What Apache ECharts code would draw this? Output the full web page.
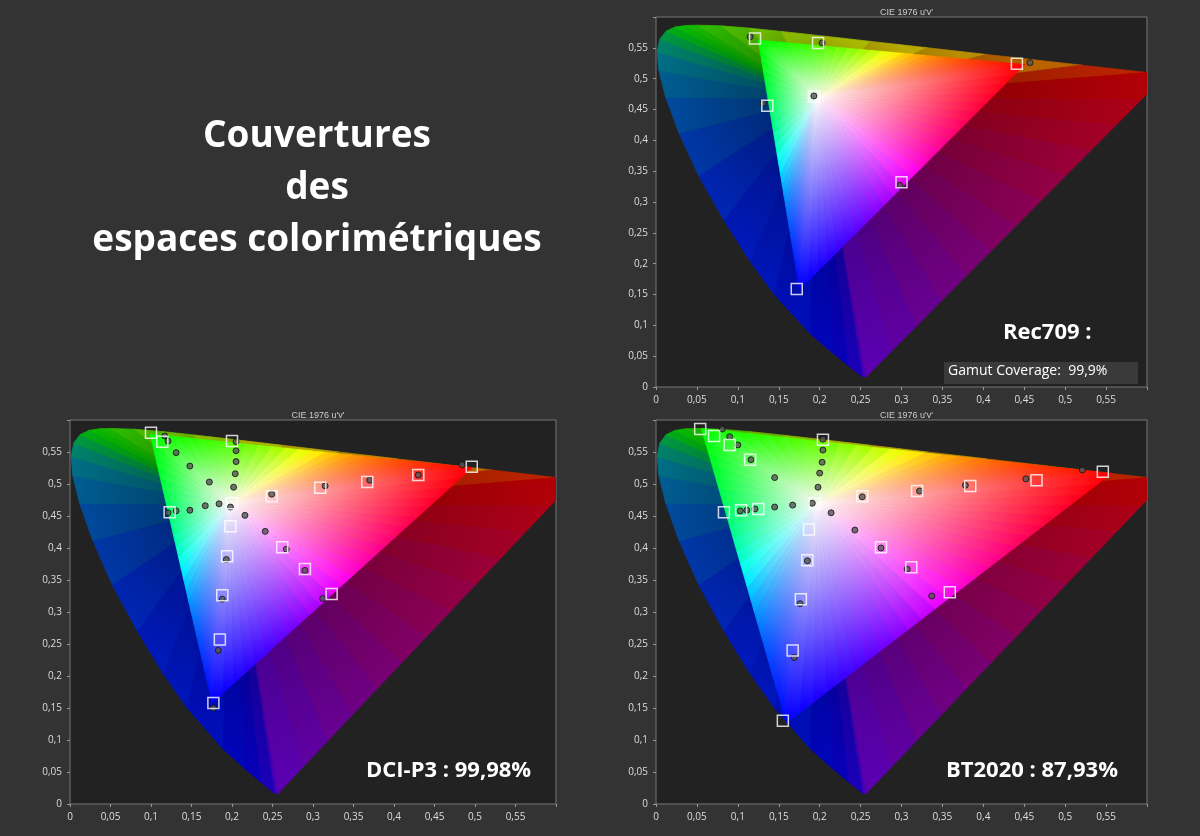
<!DOCTYPE html>
<html><head><meta charset="utf-8">
<script src="https://cdn.jsdelivr.net/npm/echarts@6/dist/echarts.min.js"></script>
<style>html,body{margin:0;background:#333;}#c{width:1200px;height:836px;}</style>
</head><body><div id="c"></div>
<script>
// Spectral locus (CIE 1931 xy), converted to u'v'
const locusWl=[380,420,440,450,460,470,475,480,485,490,495,500,505,510,515,520,525,530,540,550,560,570,580,590,600,620,650,700];
const locusX=[0.1741,0.1714,0.1644,0.1566,0.1440,0.1241,0.1096,0.0913,0.0687,0.0454,0.0235,0.0082,0.0039,0.0139,0.0389,0.0743,0.1142,0.1547,0.2296,0.3016,0.3731,0.4441,0.5125,0.5752,0.6270,0.6915,0.7260,0.7347];
const locusY=[0.0050,0.0051,0.0109,0.0177,0.0297,0.0578,0.0868,0.1327,0.2007,0.2950,0.4127,0.5384,0.6548,0.7502,0.8120,0.8338,0.8262,0.8059,0.7543,0.6923,0.6245,0.5547,0.4866,0.4242,0.3725,0.3083,0.2740,0.2653];
const whitePoint=[0.1978,0.4683];
// Gamut primaries R,G,B (u'v')
const gamutRec709=[[0.4507,0.5229],[0.125,0.5625],[0.1754,0.1579]];
const gamutP3=[[0.4964,0.5256],[0.0991,0.5779],[0.1754,0.1579]];
const gamut2020=[[0.5566,0.5165],[0.0556,0.5868],[0.1593,0.1266]];
// Measured points
const recTargets=[[0.121,0.565],[0.198,0.558],[0.441,0.524],[0.193,0.471],[0.136,0.456],[0.300,0.332],[0.172,0.159]];
const recMeasured=[[0.115,0.568],[0.203,0.558],[0.457,0.526],[0.193,0.472],[0.131,0.46],[0.298,0.327]];
const p3Targets=[[0.100,0.58],[0.114,0.566],[0.123,0.456],[0.2,0.567],[0.2,0.47],[0.198,0.434],[0.194,0.387],[0.188,0.326],[0.185,0.257],[0.177,0.158],[0.249,0.481],[0.262,0.401],[0.29,0.367],[0.323,0.328],[0.309,0.494],[0.367,0.503],[0.430,0.514],[0.496,0.527]];
const p3Measured=[[0.117,0.575],[0.121,0.567],[0.131,0.549],[0.148,0.528],[0.172,0.503],[0.205,0.566],[0.205,0.552],[0.205,0.535],[0.204,0.516],[0.202,0.495],[0.131,0.458],[0.121,0.455],[0.148,0.459],[0.167,0.466],[0.184,0.469],[0.198,0.464],[0.216,0.451],[0.241,0.426],[0.267,0.398],[0.29,0.365],[0.312,0.321],[0.193,0.382],[0.188,0.320],[0.183,0.240],[0.177,0.150],[0.249,0.484],[0.315,0.497],[0.370,0.506],[0.43,0.514],[0.484,0.530]];
const bt2020Targets=[[0.054,0.586],[0.071,0.575],[0.090,0.561],[0.115,0.538],[0.083,0.456],[0.104,0.459],[0.125,0.461],[0.204,0.569],[0.194,0.470],[0.187,0.429],[0.185,0.381],[0.177,0.320],[0.167,0.240],[0.155,0.130],[0.252,0.481],[0.275,0.401],[0.312,0.370],[0.359,0.331],[0.319,0.489],[0.384,0.497],[0.465,0.506],[0.546,0.519]];
const bt2020Measured=[[0.081,0.586],[0.090,0.574],[0.100,0.561],[0.116,0.538],[0.145,0.510],[0.103,0.458],[0.111,0.459],[0.121,0.461],[0.145,0.464],[0.167,0.467],[0.191,0.470],[0.214,0.455],[0.243,0.428],[0.275,0.400],[0.307,0.367],[0.337,0.325],[0.204,0.570],[0.204,0.553],[0.203,0.534],[0.200,0.517],[0.198,0.495],[0.185,0.380],[0.176,0.313],[0.169,0.229],[0.252,0.480],[0.322,0.489],[0.378,0.498],[0.452,0.508],[0.521,0.522]];

function toUV(x,y){const d=-2*x+12*y+3;return [4*x/d,9*y/d];}
const locus=locusX.map((x,i)=>toUV(x,locusY[i]));
function wlRGB(w){let r=0,g=0,b=0;
 if(w<450){r=-(w-450)/70*0.5;b=1;}else if(w<480){b=1;g=(w-450)/30*0.15;}
 else if(w<505){g=0.15+(w-480)/25*0.5;b=1-(w-480)/25*0.3;}
 else if(w<520){g=0.65+(w-505)/15*0.35;b=0.7-(w-505)/15*0.7;}
 else if(w<580){r=(w-520)/60;g=1;}else if(w<645){r=1;g=-(w-645)/65;}else r=1;
 return [r,g,b];}
function rgbStr(c,k){return 'rgb('+c.map(v=>Math.round(Math.min(1,v*k)*255)).join(',')+')';}
function locusPts(){const pts=locus.map((p,i)=>({p,c:wlRGB(locusWl[i])}));
 const a=locus[locus.length-1],b=locus[0];const ca=[1,0,0],cb=[0.45,0,1];
 for(let k=1;k<12;k++){const t=k/12;pts.push({p:[a[0]+(b[0]-a[0])*t,a[1]+(b[1]-a[1])*t],c:[ca[0]+(cb[0]-ca[0])*t,0,ca[2]+(cb[2]-ca[2])*t]});}
 pts.push(pts[0]);return pts;}
const LP=locusPts();
function norm(c){const m=Math.max(...c);return c.map(v=>v/m);}
function makeRender(gamut){return function(params,api){
 if(params.dataIndex!==0)return;
 const cs=params.coordSys;const ch=[];
 const W=api.coord(whitePoint);
 function tri(P1,P2,c1,c2,inner,k){
  const a=api.coord(P1),b=api.coord(P2);const m=[(a[0]+b[0])/2,(a[1]+b[1])/2];
  const cm=[(c1[0]+c2[0])/2,(c1[1]+c2[1])/2,(c1[2]+c2[2])/2];
  const col=rgbStr(cm,k);const inn=inner||rgbStr(cm,k*0.6);
  const g=new echarts.graphic.LinearGradient(W[0],W[1],m[0],m[1],[{offset:0,color:inn},{offset:1,color:col}],true);
  ch.push({type:'polygon',shape:{points:[W,a,b]},style:{fill:g,stroke:g,lineWidth:0.8}});}
 for(let i=0;i<LP.length-1;i++)tri(LP[i].p,LP[i+1].p,LP[i].c,LP[i+1].c,null,0.72);
 const cols=[[1,0,0],[0,1,0],[0,0,1]];const N=24;
 for(let e=0;e<3;e++){const A=gamut[e],B=gamut[(e+1)%3],ca=cols[e],cb=cols[(e+1)%3];
  for(let k=0;k<N;k++){const t0=k/N,t1=(k+1)/N;
   const p0=[A[0]+(B[0]-A[0])*t0,A[1]+(B[1]-A[1])*t0],p1=[A[0]+(B[0]-A[0])*t1,A[1]+(B[1]-A[1])*t1];
   const c0=norm(ca.map((v,j)=>v+(cb[j]-v)*t0)),c1=norm(ca.map((v,j)=>v+(cb[j]-v)*t1));
   tri(p0,p1,c0,c1,'rgb(255,250,250)',1);}}
 return {type:'group',children:ch,clipPath:{type:'rect',shape:{x:cs.x,y:cs.y,width:cs.width,height:cs.height}}};
};}
const grids=[{left:656,right:53,top:17,bottom:449},{left:70,right:644,top:420,bottom:32},{left:656,right:53,top:420,bottom:32}];
const gamuts=[gamutRec709,gamutP3,gamut2020];
const targets=[recTargets,p3Targets,bt2020Targets];
const measured=[recMeasured,p3Measured,bt2020Measured];
const fmt=v=>(v>=0.59?'':String(+v.toFixed(2)).replace('.',','));
const axisCommon={min:0,max:0.6,interval:0.05,axisLine:{show:false},splitLine:{show:false},
 axisTick:{show:true,length:3,lineStyle:{color:'#999'}},axisLabel:{color:'#ddd',fontSize:10,fontFamily:'Open Sans',formatter:fmt}};
const option={backgroundColor:'#333',animation:false,
 title:[
  {text:'Couvertures\ndes\nespaces colorimétriques',left:312,top:105,textAlign:'center',textStyle:{color:'#fff',fontSize:37,fontWeight:'bold',fontFamily:'Open Sans',lineHeight:52}},
  ...grids.map(g=>({text:"CIE 1976 u'v'",left:(g.left+(1200-g.right))/2,top:g.top-14,textAlign:'center',textStyle:{color:'#ccc',fontSize:9,fontWeight:'normal'}}))
 ],
 graphic:[
  {type:'text',left:1003,top:322,style:{text:'Rec709 :',fill:'#fff',font:'bold 22px "Open Sans"'}},
  {type:'rect',shape:{x:944,y:362,width:194,height:22},style:{fill:'#3a3a3a'}},
  {type:'text',left:948,top:364,style:{text:'Gamut Coverage:  99,9%',fill:'#fff',font:'14px "Open Sans"'}},
  {type:'text',left:366,top:760,style:{text:'DCI-P3 : 99,98%',fill:'#fff',font:'bold 22px "Open Sans"'}},
  {type:'text',left:946,top:760,style:{text:'BT2020 : 87,93%',fill:'#fff',font:'bold 22px "Open Sans"'}}
 ],
 grid:grids.map(g=>Object.assign({show:true,backgroundColor:'#222',borderColor:'#777',borderWidth:1},g)),
 xAxis:grids.map((g,i)=>Object.assign({type:'value',gridIndex:i},axisCommon)),
 yAxis:grids.map((g,i)=>Object.assign({type:'value',gridIndex:i},axisCommon)),
 series:[]
};
for(let i=0;i<3;i++){
 option.series.push({type:'custom',xAxisIndex:i,yAxisIndex:i,data:[[0,0]],renderItem:makeRender(gamuts[i]),silent:true,z:1});
 option.series.push({type:'scatter',xAxisIndex:i,yAxisIndex:i,data:measured[i],symbol:'circle',symbolSize:6,itemStyle:{color:'#555',borderColor:'#111',borderWidth:1},z:3});
 option.series.push({type:'scatter',xAxisIndex:i,yAxisIndex:i,data:targets[i],symbol:'rect',symbolSize:11,itemStyle:{color:'rgba(0,0,0,0)',borderColor:'#fff',borderWidth:1.5},z:4});
}
echarts.init(document.getElementById('c')).setOption(option);
</script></body></html>
